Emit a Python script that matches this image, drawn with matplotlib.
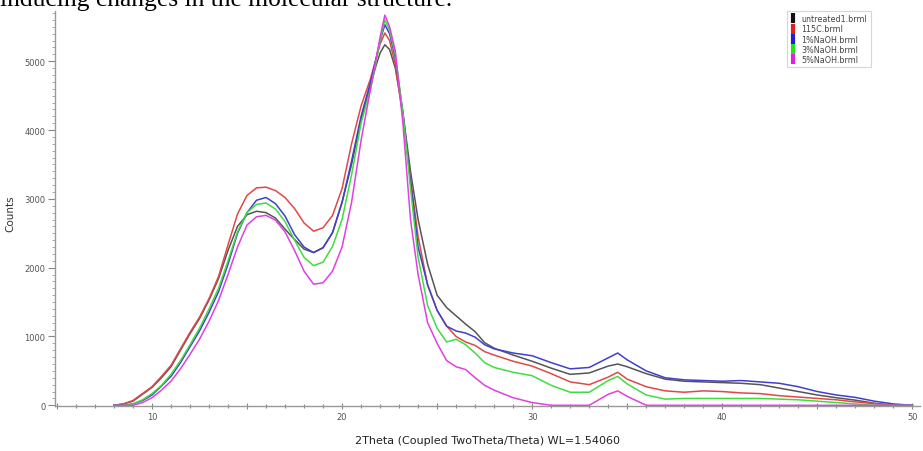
import matplotlib
matplotlib.use("Agg")
import matplotlib.pyplot as plt
from matplotlib.ticker import MultipleLocator, FuncFormatter
from matplotlib.lines import Line2D

# 2theta grid (degrees)
two_theta = [8.0, 8.5, 9.0, 9.5, 10.0, 10.5, 11.0, 11.5, 12.0, 12.5, 13.0, 13.5,
             14.0, 14.5, 15.0, 15.5, 16.0, 16.5, 17.0, 17.5, 18.0, 18.5, 19.0, 19.5,
             20.0, 20.5, 21.0, 21.5, 21.8, 22.0, 22.25, 22.5, 22.8, 23.2, 23.6, 24.0,
             24.5, 25.0, 25.5, 26.0, 26.5, 27.0, 27.5, 28.0, 29.0, 30.0, 31.0, 32.0,
             33.0, 34.0, 34.5, 35.0, 36.0, 37.0, 38.0, 39.0, 40.0, 41.0, 42.0, 43.0,
             44.0, 45.0, 46.0, 47.0, 48.0, 49.0, 50.0]

untreated = [0, 20, 60, 160, 260, 400, 560, 800, 1040, 1260, 1530, 1840,
             2250, 2600, 2770, 2820, 2800, 2720, 2560, 2410, 2270, 2220, 2290, 2510,
             2950, 3500, 4150, 4650, 4950, 5120, 5240, 5170, 4900, 4250, 3400, 2700,
             2050, 1600, 1420, 1300, 1180, 1070, 910, 830, 730, 640, 540, 450,
             470, 570, 600, 560, 460, 380, 350, 340, 330, 320, 300, 250,
             200, 150, 110, 75, 30, 0, 0]

c115 = [0, 20, 70, 170, 270, 420, 580, 820, 1060, 1280, 1550, 1870,
        2330, 2780, 3050, 3160, 3170, 3120, 3020, 2860, 2650, 2530, 2580, 2760,
        3150, 3800, 4350, 4750, 5050, 5250, 5410, 5300, 4950, 4200, 3300, 2450,
        1750, 1380, 1150, 1000, 920, 870, 780, 730, 640, 570, 460, 340,
        300, 410, 480, 380, 270, 210, 190, 210, 200, 180, 170, 140,
        120, 100, 80, 50, 25, 0, 0]

naoh1 = [0, 0, 20, 70, 150, 280, 420, 620, 850, 1080, 1350, 1650,
         2050, 2500, 2800, 2980, 3020, 2930, 2750, 2480, 2300, 2220, 2290, 2510,
         2950, 3550, 4200, 4700, 5050, 5300, 5530, 5400, 5050, 4250, 3250, 2300,
         1750, 1380, 1150, 1080, 1050, 990, 880, 820, 760, 720, 620, 530,
         550, 690, 760, 660, 500, 400, 370, 360, 350, 360, 340, 320,
         270, 200, 150, 115, 60, 20, 0]

naoh3 = [0, 0, 20, 80, 170, 290, 450, 650, 880, 1120, 1400, 1700,
         2100, 2520, 2800, 2920, 2940, 2850, 2670, 2400, 2150, 2030, 2080, 2310,
         2700, 3350, 4100, 4600, 5000, 5300, 5600, 5450, 5100, 4250, 3150, 2150,
         1450, 1120, 920, 960, 880, 760, 620, 550, 480, 430, 290, 190,
         190, 360, 420, 310, 150, 90, 100, 100, 100, 100, 100, 90,
         80, 60, 40, 20, 0, 0, 0]

naoh5 = [0, 0, 0, 40, 110, 220, 350, 530, 740, 960, 1220, 1520,
         1900, 2300, 2620, 2740, 2760, 2690, 2520, 2250, 1950, 1760, 1780, 1950,
         2300, 2950, 3850, 4600, 5050, 5350, 5670, 5500, 5150, 4100, 2700, 1900,
         1200, 900, 650, 560, 520, 400, 290, 220, 110, 40, 0, 0,
         0, 160, 210, 130, 0, 0, 0, 0, 0, 0, 0, 0,
         0, 0, 0, 0, 0, 0, 0]

labels = ["untreated1.brml", "115C.brml", "1%NaOH.brml", "3%NaOH.brml", "5%NaOH.brml"]
colors = ["#555555", "#e04848", "#4040cc", "#40dd40", "#e040e0"]
series = [untreated, c115, naoh1, naoh3, naoh5]

fig = plt.figure(figsize=(9.23, 4.52), dpi=100)
ax = fig.add_axes([55 / 923, 45 / 452, 865 / 923, 395 / 452])

for ys, col in zip(series, colors):
    ax.plot(two_theta, ys, color=col, lw=1.1)

ax.set_xlim(4.9, 50.4)
ax.set_ylim(-10, 5730)

for side in ["top", "right"]:
    ax.spines[side].set_visible(False)
for side in ["left", "bottom"]:
    ax.spines[side].set_color("#999999")
    ax.spines[side].set_linewidth(1.0)

ax.xaxis.set_major_locator(MultipleLocator(5))
ax.xaxis.set_minor_locator(MultipleLocator(1))
ax.xaxis.set_major_formatter(FuncFormatter(lambda v, p: "%d" % v if v % 10 == 0 else ""))
ax.yaxis.set_major_locator(MultipleLocator(1000))
ax.yaxis.set_minor_locator(MultipleLocator(100))

ax.tick_params(axis="x", which="major", direction="inout", length=5, width=0.8,
               color="#888888", labelsize=6, labelcolor="#555555", pad=2)
ax.tick_params(axis="x", which="minor", direction="inout", length=3, width=0.8,
               color="#888888")
ax.tick_params(axis="y", which="major", direction="out", length=5, width=0.8,
               color="#888888", labelsize=6, labelcolor="#555555", pad=2)
ax.tick_params(axis="y", which="minor", direction="out", length=2.5, width=0.6,
               color="#999999")

ax.set_ylabel("Counts", fontsize=7.5, color="#333333")
ax.yaxis.set_label_coords(-40 / 865, 0.49)
ax.set_xlabel("2Theta (Coupled TwoTheta/Theta) WL=1.54060", fontsize=8,
              color="#222222", labelpad=10)

handles = [Line2D([], [], ls="none", marker="|", markersize=7, markeredgewidth=3,
                  color=c) for c in ["#111111", "#e02020", "#2020d0", "#20e020", "#e020e0"]]
leg = fig.legend(handles, labels, loc="upper left",
                 bbox_to_anchor=(783 / 923, 1 - 8 / 452), fontsize=5.8,
                 frameon=True, fancybox=False, handlelength=0.8, handletextpad=0.6,
                 labelspacing=0.15, borderpad=0.4, labelcolor="#444444")
leg.get_frame().set_edgecolor("#cccccc")
leg.get_frame().set_linewidth(0.8)

# cut-off line of the surrounding document text
fig.text(0.0, 1 - 6 / 452, "inducing changes in the molecular structure.",
         fontsize=18.4, family="Liberation Serif", va="baseline", ha="left")

fig.savefig("out.png", dpi=100)
